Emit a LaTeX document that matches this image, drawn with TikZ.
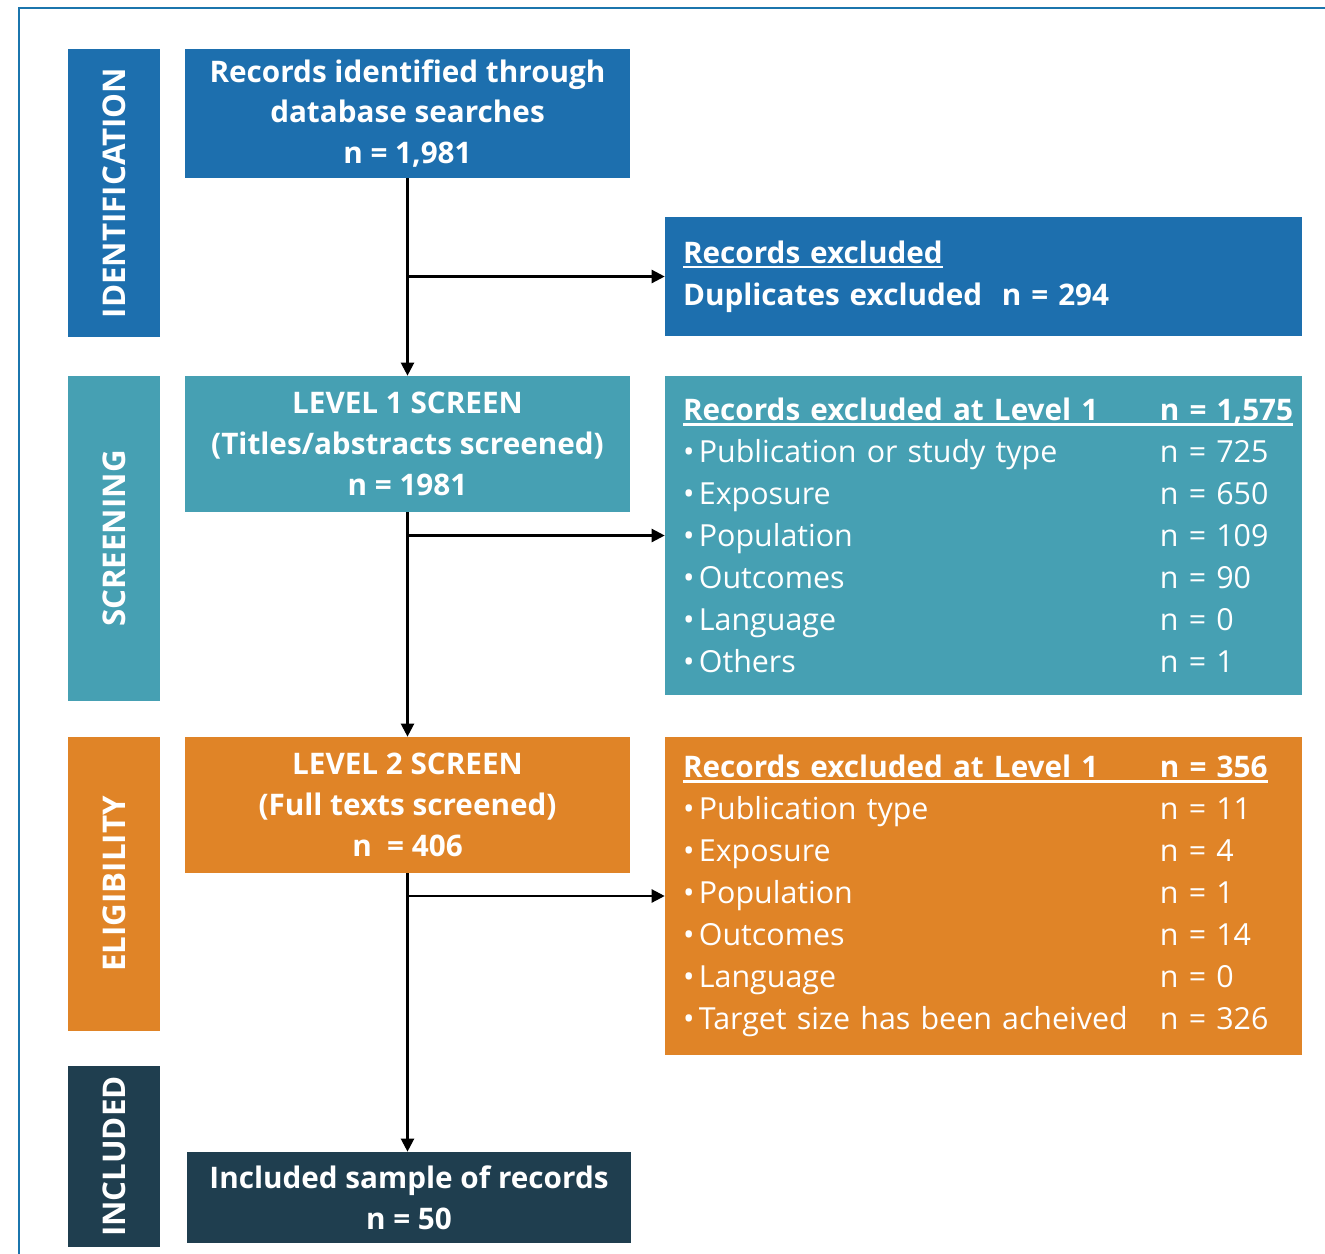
\documentclass[tikz,border=0pt]{standalone}
\usepackage{fontspec}
\setmainfont{Open Sans}
\usetikzlibrary{arrows.meta, positioning}
\usepackage{xcolor}
\definecolor{idblue}{HTML}{1D6FAE}
\definecolor{scrteal}{HTML}{46A0B3}
\definecolor{eliorange}{HTML}{E08427}
\definecolor{incdark}{HTML}{1F3E4F}
\definecolor{frameblue}{HTML}{1B75AD}
\newcommand\hdrline[1]{\setbox0\hbox{#1}\rlap{\rule[-3pt]{\wd0}{1.5pt}}\box0}
\newcommand\exitem[2]{\makebox[9.54cm][l]{\textbullet\hspace{2.5pt}#1}#2}
\tikzset{%
	every box/.style={
		rectangle,
		inner sep=0pt,
		text=white,
		font=\fontsize{17.3}{23.9}\selectfont
	},
	stage/.style={
		every box,
		rotate=90,
		minimum height=1.84cm,
		font=\fontsize{17.8}{20}\selectfont\bfseries
	},
	flow box/.style={
		every box,
		minimum width=8.9cm,
		minimum height=2.72cm,
		align=center,
		font=\fontsize{16.9}{23.2}\selectfont\bfseries
	},
	excl box/.style={
		every box,
		inner xsep=0.36cm,
		text width=12.02cm,
		align=left
	},
}

\begin{document}
\begin{tikzpicture}[
			x=0.02cm, y=-0.02cm,
			flow/.style={-{Triangle[length=2.6mm,width=2.6mm]}, line width=1.3pt}
			]
			\useasboundingbox (0,0) rectangle (1325,1254);
			\draw[frameblue, line width=1.4pt] (19,1254) -- (19,8) -- (1325,8);

			\node[stage, fill=idblue, minimum width=5.76cm] (idlab) at (114,193) {IDENTIFICATION};
			\node[stage, fill=scrteal, minimum width=6.5cm] (scrlab) at (114,538.5) {SCREENING};
			\node[stage, fill=eliorange, minimum width=5.88cm] (elilab) at (114,884) {ELIGIBILITY};
			\node[stage, fill=incdark, minimum width=3.62cm] (inclab) at (114,1156.5) {INCLUDED};

			\node[flow box, fill=idblue, minimum height=2.58cm] (rec) at (407.5,113.5)
				{Records identified through\\database searches\\n = 1,981};
			\node[flow box, fill=scrteal] (lev1) at (407.5,444)
				{LEVEL 1 SCREEN\\(Titles/abstracts screened)\\n = 1981};
			\node[flow box, fill=eliorange] (lev2) at (407.5,805)
				{LEVEL 2 SCREEN\\(Full texts screened)\\n \ = 406};
			\node[flow box, fill=incdark, minimum width=8.88cm, minimum height=1.82cm] (incl) at (409,1197.5)
				{Included sample of records\\n = 50};

			\node[excl box, fill=idblue, minimum height=2.38cm, font=\fontsize{16.9}{23.9}\selectfont] (dup) at (983.5,276.5)
				{\bfseries\hdrline{Records excluded}\\Duplicates excluded\ \ n = 294};
			\node[excl box, fill=scrteal, minimum height=6.38cm] (exc1) at (983.5,535.5)
				{{\fontsize{16.9}{23.9}\selectfont\bfseries\hdrline{\makebox[9.54cm][l]{Records excluded at Level 1}n = 1,575}}\\
				\exitem{Publication or study type}{n = 725}\\
				\exitem{Exposure}{n = 650}\\
				\exitem{Population}{n = 109}\\
				\exitem{Outcomes}{n = 90}\\
				\exitem{Language}{n = 0}\\
				\exitem{Others}{n = 1}};
			\node[excl box, fill=eliorange, minimum height=6.36cm] (exc2) at (983.5,896)
				{{\fontsize{16.9}{23.9}\selectfont\bfseries\hdrline{\makebox[9.54cm][l]{Records excluded at Level 1}n = 356}}\\
				\exitem{Publication type}{n = 11}\\
				\exitem{Exposure}{n = 4}\\
				\exitem{Population}{n = 1}\\
				\exitem{Outcomes}{n = 14}\\
				\exitem{Language}{n = 0}\\
				\exitem{Target size has been acheived}{n = 326}};

			\draw[flow] (rec) -- (lev1);
			\draw[flow] (rec.south |- dup.west) -- (dup.west);
			\draw[flow] (lev1) -- (lev2);
			\draw[flow] (lev1.south |- exc1.west) -- (exc1.west);
			\draw[flow] (lev2) -- (lev2.south |- incl.north);
			\draw[flow] (lev2.south |- exc2.west) -- (exc2.west);
		\end{tikzpicture}
\end{document}
